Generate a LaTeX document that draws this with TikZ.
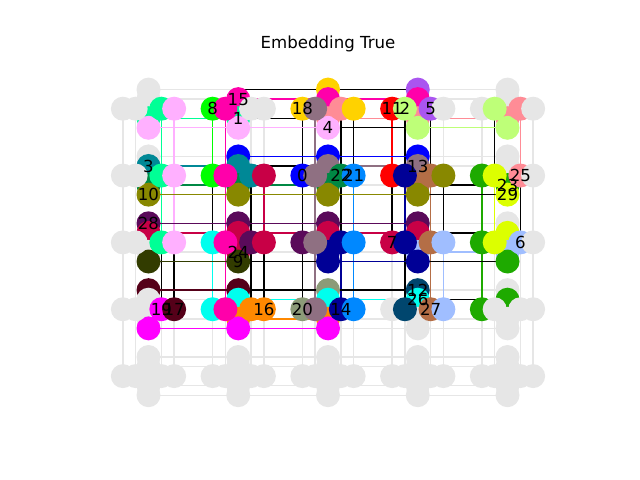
\documentclass[tikz,border=0pt]{standalone}
\usepackage{fontspec}
\setmainfont{DejaVu Sans}
\definecolor{gr}{RGB}{230,230,230}
\definecolor{mint}{RGB}{0,255,150}
\definecolor{lpink}{RGB}{255,176,255}
\definecolor{lime}{RGB}{0,255,0}
\definecolor{hotpink}{RGB}{255,0,170}
\definecolor{gold}{RGB}{255,210,0}
\definecolor{mauve}{RGB}{143,112,130}
\definecolor{salmon}{RGB}{255,140,150}
\definecolor{cred}{RGB}{255,0,0}
\definecolor{lgreen}{RGB}{190,255,120}
\definecolor{cpurple}{RGB}{170,85,240}
\definecolor{cteal}{RGB}{0,136,150}
\definecolor{colive}{RGB}{136,136,0}
\definecolor{cblue}{RGB}{0,0,255}
\definecolor{crimson}{RGB}{200,0,70}
\definecolor{dkgreen}{RGB}{0,136,68}
\definecolor{azure}{RGB}{0,136,255}
\definecolor{navy}{RGB}{0,0,150}
\definecolor{cbrown}{RGB}{180,110,70}
\definecolor{dkgreenb}{RGB}{30,170,0}
\definecolor{cyellow}{RGB}{220,255,0}
\definecolor{dkpurple}{RGB}{90,10,90}
\definecolor{dkolive}{RGB}{50,60,0}
\definecolor{ccyan}{RGB}{0,255,238}
\definecolor{cmag}{RGB}{255,0,255}
\definecolor{maroon}{RGB}{85,0,25}
\definecolor{corange}{RGB}{255,136,0}
\definecolor{sage}{RGB}{140,155,120}
\definecolor{dkteal}{RGB}{0,70,110}
\definecolor{lblue}{RGB}{160,190,255}
\newcommand\cell[9]{%
 \node[dot=#2] (nh#10) at (h#10) {};
 \node[dot=#6] (nv#10) at (v#10) {};
 \node[dot=#7] (nv#11) at (v#11) {};
 \node[dot=#8] (nv#12) at (v#12) {};
 \node[dot=#9] (nv#13) at (v#13) {};
 \node[dot=#3] (nh#11) at (h#11) {};
 \node[dot=#4] (nh#12) at (h#12) {};
 \node[dot=#5] (nh#13) at (h#13) {};
}
\begin{document}
\begin{tikzpicture}[x=1bp,y=-1bp,
  gl/.style={line width=1.4bp, draw=gr},
  cl/.style={line width=1.4bp, draw=#1},
  dot/.style={circle, inner sep=0pt, minimum size=24bp, draw=none, fill=#1},
  lab/.style={font=\fontsize{16.6bp}{18bp}\selectfont, inner sep=0pt}]
\useasboundingbox (0,0) rectangle (640,480);
\node[lab] (title) at (328,44) {Embedding True};
\foreach \i in {0,...,4}{
 \foreach \j in {0,...,4}{
  \pgfmathsetmacro\cx{148.5+89.75*\j}
  \pgfmathsetmacro\cy{108.7+66.85*\i}
  \coordinate (h\i\j0) at (\cx-25.64,\cy);
  \coordinate (h\i\j1) at (\cx-12.82,\cy);
  \coordinate (h\i\j2) at (\cx+12.82,\cy);
  \coordinate (h\i\j3) at (\cx+25.64,\cy);
  \coordinate (v\i\j0) at (\cx,\cy-19.1);
  \coordinate (v\i\j1) at (\cx,\cy-9.55);
  \coordinate (v\i\j2) at (\cx,\cy+9.55);
  \coordinate (v\i\j3) at (\cx,\cy+19.1);
 }}
% gray background edges
\foreach \i in {0,...,3}{
 \pgfmathtruncatemacro\n{\i+1}
 \foreach \j in {0,...,4}{
  \foreach \k in {0,...,3}{
   \draw[gl] (h\i\j\k) -- (h\n\j\k);
   \draw[gl] (v\j\i\k) -- (v\j\n\k);
 }}}
% vertical coloured edges
\draw[cl=mint] (h002)--(h102)--(h202);
\draw[cl=black] (h202)--(h302);
\draw[cl=lpink] (h003)--(h103)--(h203);
\draw[cl=black] (h203)--(h303);
\draw[cl=lime] (h010)--(h110);
\draw[cl=black] (h110)--(h210);
\draw[cl=ccyan] (h210)--(h310);
\draw[cl=hotpink] (h011)--(h111)--(h211)--(h311);
\draw[cl=black] (h112)--(h212)--(h312);
\draw[cl=crimson] (h113)--(h213);
\draw[cl=black] (h213)--(h313);
\draw[cl=black] (h020)--(h120)--(h220)--(h320);
\draw[cl=mauve] (h021)--(h121)--(h221)--(h321);
\draw[cl=black] (h022)--(h122)--(h222);
\draw[cl=navy] (h222)--(h322);
\draw[cl=black] (h023)--(h123);
\draw[cl=azure] (h123)--(h223)--(h323);
\draw[cl=cred] (h030)--(h130);
\draw[cl=black] (h130)--(h230);
\draw[cl=black] (h031)--(h131);
\draw[cl=navy] (h131)--(h231);
\draw[cl=black] (h231)--(h331);
\draw[cl=black] (h032)--(h132);
\draw[cl=cbrown] (h132)--(h232)--(h332);
\draw[cl=black] (h133)--(h233);
\draw[cl=lblue] (h233)--(h333);
\draw[cl=dkgreenb] (h140)--(h240)--(h340);
\draw[cl=black] (h041)--(h141);
\draw[cl=cyellow] (h141)--(h241);
\draw[cl=salmon] (h042)--(h142);
\draw[cl=black] (h142)--(h242);
% horizontal coloured edges
\draw[cl=black] (v010)--(v020)--(v030);
\draw[cl=hotpink] (v011)--(v021)--(v031);
\draw[cl=mint] (v002)--(v012);
\draw[cl=black] (v012)--(v022);
\draw[cl=salmon] (v022)--(v032)--(v042);
\draw[cl=lpink] (v003)--(v013)--(v023);
\draw[cl=black] (v023)--(v033);
\draw[cl=lgreen] (v033)--(v043);
\draw[cl=cblue] (v110)--(v120)--(v130);
\draw[cl=cteal] (v101)--(v111);
\draw[cl=black] (v111)--(v121);
\draw[cl=mauve] (v121)--(v131);
\draw[cl=dkgreen] (v102)--(v112)--(v122);
\draw[cl=black] (v132)--(v142);
\draw[cl=colive] (v103)--(v113)--(v123)--(v133);
\draw[cl=black] (v133)--(v143);
\draw[cl=dkpurple] (v200)--(v210)--(v220)--(v230);
\draw[cl=crimson] (v201)--(v211)--(v221)--(v231);
\draw[cl=black] (v231)--(v241);
\draw[cl=lblue] (v232)--(v242);
\draw[cl=dkolive] (v203)--(v213);
\draw[cl=black] (v213)--(v223);
\draw[cl=navy] (v223)--(v233);
\draw[cl=black] (v233)--(v243);
\draw[cl=maroon] (v300)--(v310);
\draw[cl=black] (v310)--(v320)--(v330);
\draw[cl=ccyan] (v311)--(v321)--(v331);
\draw[cl=black] (v331)--(v341);
\draw[cl=corange] (v312)--(v322);
\draw[cl=cmag] (v303)--(v313)--(v323);
% nodes: cell{ij}{h0}{h1}{h2}{h3}{v0}{v1}{v2}{v3}
\cell{00}{gr}{gr}{mint}{lpink}{gr}{gr}{mint}{lpink}
\cell{01}{lime}{hotpink}{gr}{gr}{none}{hotpink}{mint}{lpink}
\cell{02}{gold}{mauve}{salmon}{gold}{gold}{hotpink}{salmon}{lpink}
\cell{03}{cred}{lgreen}{cpurple}{gr}{cpurple}{hotpink}{salmon}{lgreen}
\cell{04}{gr}{lgreen}{salmon}{gr}{gr}{gr}{salmon}{lgreen}
\cell{10}{gr}{gr}{mint}{lpink}{gr}{cteal}{dkgreen}{colive}
\cell{11}{lime}{hotpink}{cteal}{crimson}{cblue}{cteal}{dkgreen}{colive}
\cell{12}{cblue}{mauve}{dkgreen}{azure}{cblue}{mauve}{dkgreen}{colive}
\cell{13}{cred}{navy}{cbrown}{colive}{cblue}{mauve}{cbrown}{colive}
\cell{14}{dkgreenb}{cyellow}{salmon}{gr}{gr}{gr}{dkgreenb}{cyellow}
\cell{20}{gr}{gr}{mint}{lpink}{dkpurple}{crimson}{gr}{dkolive}
\cell{21}{ccyan}{hotpink}{dkpurple}{crimson}{dkpurple}{crimson}{crimson}{dkolive}
\cell{22}{dkpurple}{mauve}{navy}{azure}{dkpurple}{crimson}{navy}{navy}
\cell{23}{crimson}{navy}{cbrown}{lblue}{dkpurple}{crimson}{lblue}{navy}
\cell{24}{dkgreenb}{cyellow}{lblue}{gr}{gr}{cyellow}{lblue}{dkgreenb}
\cell{30}{gr}{gr}{cmag}{maroon}{maroon}{gr}{gr}{cmag}
\cell{31}{ccyan}{hotpink}{corange}{corange}{maroon}{ccyan}{corange}{cmag}
\cell{32}{sage}{mauve}{navy}{azure}{sage}{ccyan}{corange}{cmag}
\cell{33}{gr}{dkteal}{cbrown}{lblue}{dkteal}{ccyan}{gr}{gr}
\cell{34}{dkgreenb}{gr}{gr}{gr}{gr}{dkgreenb}{gr}{gr}
\cell{40}{gr}{gr}{gr}{gr}{gr}{gr}{gr}{gr}
\cell{41}{gr}{gr}{gr}{gr}{gr}{gr}{gr}{gr}
\cell{42}{gr}{gr}{gr}{gr}{gr}{gr}{gr}{gr}
\cell{43}{gr}{gr}{gr}{gr}{gr}{gr}{gr}{gr}
\cell{44}{gr}{gr}{gr}{gr}{gr}{gr}{gr}{gr}
% labels
\node[lab] (l0) at (h120) {0};
\node[lab] (l1) at (v012) {1};
\node[lab] (l2) at (h031) {2};
\node[lab] (l3) at (v101) {3};
\node[lab] (l4) at (v023) {4};
\node[lab] (l5) at (h032) {5};
\node[lab] (l6) at (h242) {6};
\node[lab] (l7) at (h230) {7};
\node[lab] (l8) at (h010) {8};
\node[lab] (l9) at (v213) {9};
\node[lab] (l10) at (v103) {10};
\node[lab] (l11) at (h030) {11};
\node[lab] (l12) at (v330) {12};
\node[lab] (l13) at (v131) {13};
\node[lab] (l14) at (h322) {14};
\node[lab] (l15) at (v011) {15};
\node[lab] (l16) at (h313) {16};
\node[lab] (l17) at (h303) {17};
\node[lab] (l18) at (h020) {18};
\node[lab] (l19) at (h302) {19};
\node[lab] (l20) at (h320) {20};
\node[lab] (l21) at (h123) {21};
\node[lab] (l22) at (h122) {22};
\node[lab] (l23) at (v142) {23};
\node[lab] (l24) at (v212) {24};
\node[lab] (l25) at (h142) {25};
\node[lab] (l26) at (v331) {26};
\node[lab] (l27) at (h332) {27};
\node[lab] (l28) at (v200) {28};
\node[lab] (l29) at (v143) {29};
\end{tikzpicture}
\end{document}
